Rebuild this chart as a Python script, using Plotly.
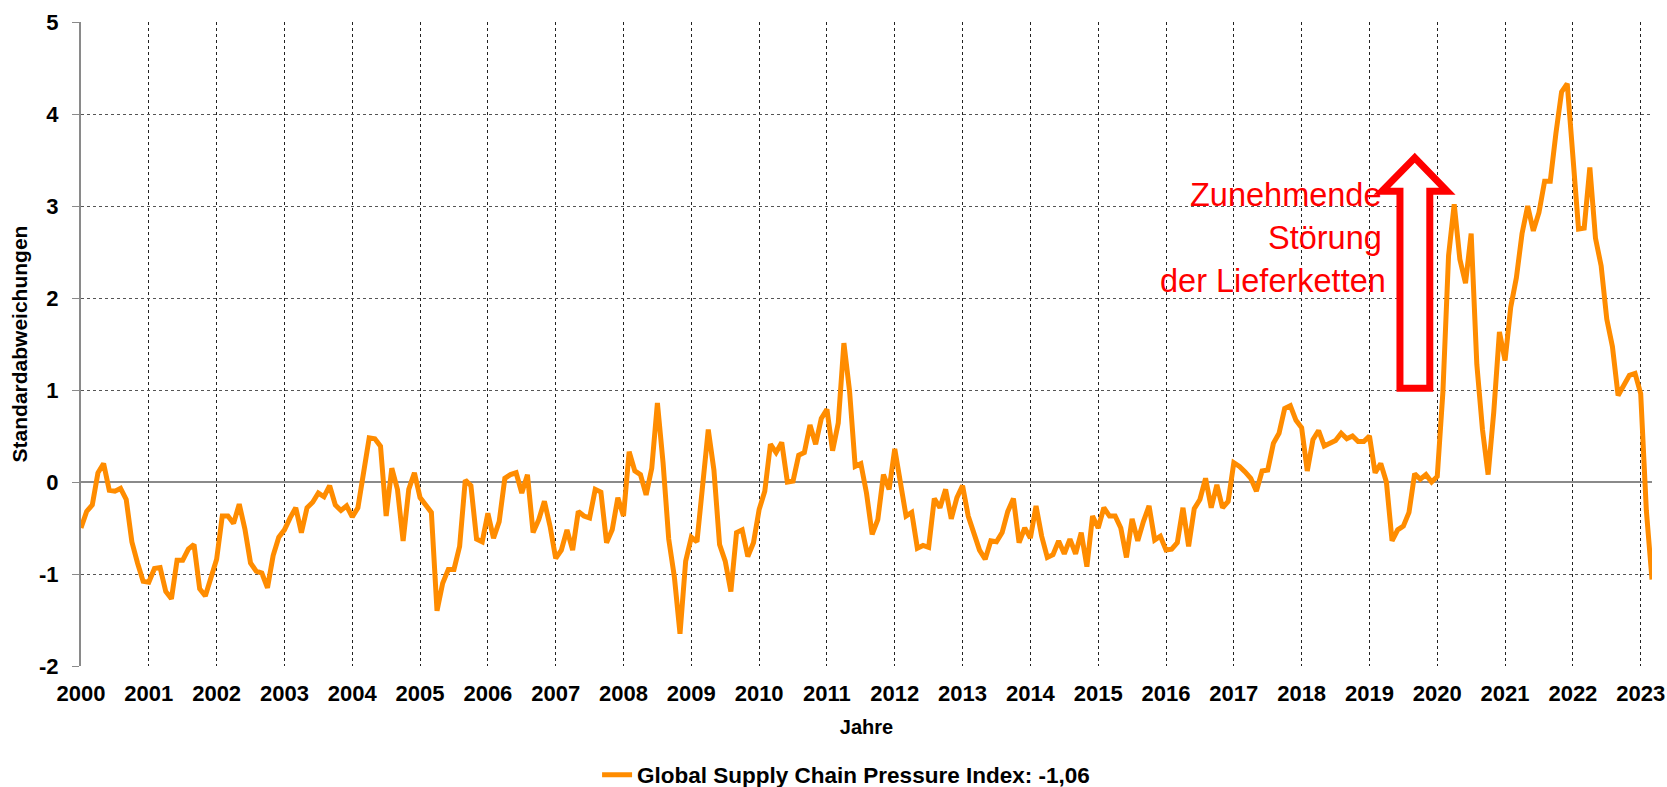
import plotly.graph_objects as go

# Global Supply Chain Pressure Index, monthly from Jan 2000 to Mar 2023
start_year = 2000
gscpi = [
    -0.50, -0.32, -0.25, 0.10, 0.20, -0.09, -0.10, -0.07, -0.19, -0.65, -0.88, -1.08,   # 2000
    -1.09, -0.94, -0.93, -1.19, -1.27, -0.85, -0.85, -0.73, -0.68, -1.16, -1.24, -1.04,  # 2001
    -0.84, -0.37, -0.37, -0.45, -0.24, -0.51, -0.88, -0.97, -0.99, -1.15, -0.80, -0.60,  # 2002
    -0.52, -0.39, -0.28, -0.55, -0.28, -0.22, -0.12, -0.16, -0.04, -0.25, -0.31, -0.26,  # 2003
    -0.38, -0.28, 0.08, 0.48, 0.47, 0.39, -0.37, 0.15, -0.08, -0.64, -0.08, 0.10,        # 2004
    -0.17, -0.26, -0.33, -1.40, -1.10, -0.95, -0.95, -0.70, 0.02, -0.04, -0.62, -0.65,   # 2005
    -0.34, -0.61, -0.43, 0.04, 0.08, 0.10, -0.12, 0.08, -0.55, -0.41, -0.21, -0.48,      # 2006
    -0.83, -0.74, -0.52, -0.74, -0.32, -0.37, -0.39, -0.08, -0.11, -0.66, -0.52, -0.17,  # 2007
    -0.37, 0.33, 0.12, 0.08, -0.14, 0.15, 0.86, 0.21, -0.62, -1.03, -1.65, -0.86,        # 2008
    -0.60, -0.65, -0.05, 0.57, 0.13, -0.68, -0.86, -1.19, -0.55, -0.52, -0.81, -0.66,    # 2009
    -0.30, -0.10, 0.41, 0.32, 0.43, 0.00, 0.01, 0.29, 0.32, 0.62, 0.41, 0.69,            # 2010
    0.79, 0.34, 0.64, 1.51, 0.99, 0.17, 0.20, -0.12, -0.57, -0.41, 0.08, -0.08,          # 2011
    0.36, 0.02, -0.37, -0.33, -0.72, -0.69, -0.71, -0.18, -0.28, -0.08, -0.40, -0.17,    # 2012
    -0.04, -0.37, -0.54, -0.74, -0.84, -0.64, -0.65, -0.55, -0.32, -0.18, -0.66, -0.50,  # 2013
    -0.61, -0.26, -0.59, -0.82, -0.79, -0.64, -0.78, -0.62, -0.78, -0.55, -0.92, -0.37,  # 2014
    -0.50, -0.28, -0.37, -0.37, -0.50, -0.82, -0.40, -0.64, -0.43, -0.26, -0.63, -0.59,  # 2015
    -0.74, -0.73, -0.66, -0.28, -0.70, -0.29, -0.19, 0.04, -0.28, -0.03, -0.28, -0.21,   # 2016
    0.21, 0.17, 0.11, 0.04, -0.10, 0.12, 0.13, 0.42, 0.53, 0.80, 0.83, 0.67,             # 2017
    0.59, 0.12, 0.46, 0.56, 0.39, 0.42, 0.45, 0.53, 0.47, 0.50, 0.44, 0.44,              # 2018
    0.50, 0.10, 0.20, 0.00, -0.64, -0.52, -0.48, -0.33, 0.09, 0.03, 0.08, 0.00,          # 2019
    0.06, 0.98, 2.46, 3.02, 2.42, 2.16, 2.70, 1.28, 0.57, 0.08, 0.76, 1.63,              # 2020
    1.32, 1.90, 2.22, 2.70, 3.00, 2.73, 2.93, 3.27, 3.27, 3.79, 4.24, 4.33,              # 2021
    3.49, 2.75, 2.76, 3.42, 2.65, 2.35, 1.77, 1.47, 0.94, 1.04, 1.16, 1.18,              # 2022
    0.96, -0.31, -1.06,                                                                  # 2023
]
x_years = [start_year + i / 12 for i in range(len(gscpi))]

year_ticks = list(range(2000, 2024))
year_labels = [str(y) for y in year_ticks]
y_ticks = list(range(-2, 6))
y_labels = [str(v) for v in y_ticks]

series_name = "Global Supply Chain Pressure Index: -1,06"
annotation_lines = ["Zunehmende", "Störung", "der Lieferketten"]

FONT = "'Liberation Sans', Arial, sans-serif"
W, H = 1667, 787
x_range = [2000, 2000 + (len(gscpi) - 1) / 12]
y_range = [-2, 5]

fig = go.Figure()
fig.add_trace(go.Scatter(
    x=x_years, y=gscpi, mode="lines", name=series_name,
    line=dict(color="#FF8C00", width=5),
))

# Red outline block arrow
arrow_path = ("M 2019.45,1.02 L 2019.45,3.16 L 2019.183,3.16 L 2019.668,3.525 "
              "L 2020.148,3.16 L 2019.89,3.16 L 2019.89,1.02 Z")
fig.add_shape(type="path", path=arrow_path, xref="x", yref="y",
              line=dict(color="#FF0000", width=7), fillcolor="white", layer="above")

ann_pos = [(2019.21, 3.12), (2019.21, 2.65), (2019.28, 2.19)]
for txt, (ax_, ay_) in zip(annotation_lines, ann_pos):
    fig.add_annotation(x=ax_, y=ay_, xref="x", yref="y", text=txt, showarrow=False,
                       xanchor="right", yanchor="middle",
                       font=dict(family=FONT, size=32.5, color="#FF0000"))

bold22 = dict(family=FONT, size=22, color="black", weight="bold")

fig.update_layout(
    width=W, height=H,
    margin=dict(l=81, r=15, t=22, b=121, autoexpand=False),
    paper_bgcolor="white", plot_bgcolor="white",
    font=dict(family=FONT, size=22, color="black"),
    showlegend=True,
    legend=dict(orientation="h", x=0.487, xanchor="center",
                yref="container", y=(H - 775) / H, yanchor="middle",
                font=dict(family=FONT, size=22.5, color="black", weight="bold"),
                bgcolor="rgba(0,0,0,0)"),
    xaxis=dict(
        range=x_range,
        tickvals=year_ticks, ticktext=year_labels,
        showgrid=True, gridcolor="#222222", griddash="dot", gridwidth=1,
        showline=False, zeroline=False, ticks="", automargin=False,
        tickfont=bold22, ticklabelstandoff=12,
        title=dict(text="Jahre", font=dict(family=FONT, size=20, color="black", weight="bold"),
                   standoff=14),
    ),
    # tick marks crossing the zero line, as in the original chart
    xaxis2=dict(overlaying="x", anchor="free",
                position=(0 - y_range[0]) / (y_range[1] - y_range[0]),
                side="bottom", range=x_range, tickvals=year_ticks, automargin=False,
                ticks="outside", ticklen=5, tickcolor="#8a8a8a", tickwidth=1,
                showticklabels=False, showgrid=False, showline=False, zeroline=False),
    yaxis=dict(
        range=y_range, tickvals=y_ticks, ticktext=y_labels,
        showgrid=True, gridcolor="#555555", griddash="dot", gridwidth=1,
        showline=True, linecolor="#8a8a8a", linewidth=2,
        zeroline=True, zerolinecolor="#8a8a8a", zerolinewidth=2,
        ticks="outside", ticklen=7, tickcolor="#8a8a8a", tickwidth=1, automargin=False,
        tickfont=bold22, ticklabelstandoff=9,
        title=dict(text="Standardabweichungen",
                   font=dict(family=FONT, size=21, color="black", weight="bold"),
                   standoff=6),
    ),
)

# remove the default 8px page margin so the figure fills the window exactly
fig.write_html("out.html", config={"displayModeBar": False},
               post_script="document.body.style.margin='0';document.body.style.overflow='hidden';")
